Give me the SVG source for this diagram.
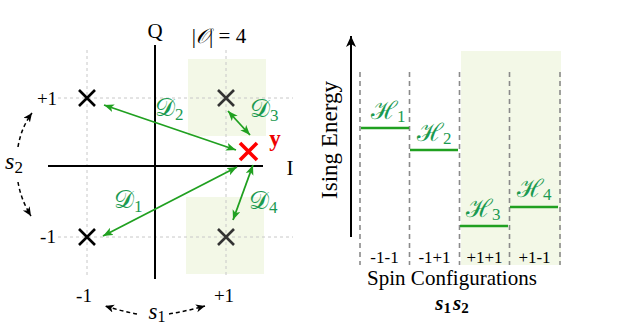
<svg xmlns="http://www.w3.org/2000/svg" width="641" height="328" viewBox="0 0 641 328">
<defs>
<style>
.t{font-family:"Liberation Serif","DejaVu Serif",serif;fill:#000}
.m{font-family:"Liberation Serif","DejaVu Serif",serif;font-style:italic}
.lab{font-family:"Liberation Serif","DejaVu Serif",serif;fill:#1a9a50;font-size:25px}
.grid{stroke:#c8c8c8;stroke-width:1;stroke-dasharray:3 3;fill:none}
.vd{stroke:#8a8a8a;stroke-width:1.6;stroke-dasharray:5 4;fill:none}
.ga{stroke:#20a020;stroke-width:1.8;fill:none;marker-start:url(#ag);marker-end:url(#ag)}
.da{stroke:#000;stroke-width:1.5;stroke-dasharray:4 3;fill:none;marker-end:url(#ab)}
.ax{stroke:#000;stroke-width:2;fill:none}
.xm{stroke:#000;stroke-width:2.6;fill:none}
.hl{stroke:#20a020;stroke-width:2.6}
.sh{fill:#f3f8e7}
</style>
<marker id="ag" markerUnits="userSpaceOnUse" markerWidth="12" markerHeight="10" refX="10" refY="4" orient="auto-start-reverse">
<path d="M0,0 L10,4 L0,8 L2.5,4 Z" fill="#20a020"/>
</marker>
<marker id="ab" markerUnits="userSpaceOnUse" markerWidth="12" markerHeight="10" refX="9" refY="4" orient="auto">
<path d="M0,0 L9,4 L0,8 L2.5,4 Z" fill="#000"/>
</marker>
<marker id="ak" markerUnits="userSpaceOnUse" markerWidth="14" markerHeight="12" refX="11" refY="5" orient="auto">
<path d="M0,0 L11,5 L0,10 L3,5 Z" fill="#000"/>
</marker>
</defs>

<g id="constellation">
<rect class="sh" x="188" y="59" width="78" height="77"/>
<rect class="sh" x="186" y="197" width="78" height="77"/>
<g id="grid">
<line class="grid" x1="87" y1="50" x2="87" y2="278"/>
<line class="grid" x1="226" y1="50" x2="226" y2="278"/>
<line class="grid" x1="58" y1="98" x2="293" y2="98"/>
<line class="grid" x1="58" y1="237" x2="293" y2="237"/>
</g>
<g id="axes">
<line class="ax" x1="155" y1="45" x2="155" y2="279"/>
<line class="ax" x1="48" y1="166" x2="263" y2="166"/>
<text class="t" x="155" y="38" font-size="21" text-anchor="middle">Q</text>
<text class="t" x="290" y="175" font-size="21" text-anchor="middle">I</text>
<text class="t" x="47" y="105" font-size="19" text-anchor="middle">+1</text>
<text class="t" x="48" y="243" font-size="19" text-anchor="middle">-1</text>
<text class="t" x="84" y="302" font-size="19" text-anchor="middle">-1</text>
<text class="t" x="224" y="302" font-size="19" text-anchor="middle">+1</text>
<text class="t" x="219" y="43" font-size="21" text-anchor="middle">|<tspan font-style="italic">𝒪</tspan>| = 4</text>
</g>
<g id="pt-mm"><path class="xm" d="M79,229 L95,245 M95,229 L79,245"/></g>
<g id="pt-mp"><path class="xm" d="M79,90 L95,106 M95,90 L79,106"/></g>
<g id="pt-pp"><path class="xm" d="M218,90 L234,106 M234,90 L218,106" style="stroke:#333"/></g>
<g id="pt-pm"><path class="xm" d="M218,229 L234,245 M234,229 L218,245" style="stroke:#333"/></g>
<g id="pt-y">
<path d="M240,143 L257,160 M257,143 L240,160" stroke="#ff0000" stroke-width="3.6" fill="none"/>
<text x="275" y="146" font-family="Liberation Serif, serif" font-weight="bold" font-size="23" fill="#ee0000" text-anchor="middle">y</text>
</g>
</g>

<g id="connectors">
<line class="ga" x1="104" y1="105" x2="236" y2="150"/>
<line class="ga" x1="228" y1="111" x2="250" y2="135"/>
<line class="ga" x1="103" y1="236" x2="237" y2="167"/>
<line class="ga" x1="253" y1="165" x2="233" y2="220"/>
<path class="da" d="M18,147 Q21,128 32,113"/>
<path class="da" d="M18,182 Q21,200 31,216"/>
<path class="da" d="M137,314 Q121,311 105,306"/>
<path class="da" d="M169,314 Q187,311 205,306"/>
<line class="ax" x1="351" y1="237" x2="351" y2="36" marker-end="url(#ak)"/>
</g>

<g id="dist-labels">
<text class="lab" x="155" y="116">𝒟<tspan font-size="17" dy="4">2</tspan></text>
<text class="lab" x="250" y="117">𝒟<tspan font-size="17" dy="4">3</tspan></text>
<text class="lab" x="114" y="208">𝒟<tspan font-size="17" dy="4">1</tspan></text>
<text class="lab" x="249" y="209">𝒟<tspan font-size="17" dy="4">4</tspan></text>
</g>
<text class="m" x="14" y="169" font-size="24" text-anchor="middle">s<tspan font-size="17" dy="4" font-style="normal">2</tspan></text>
<text class="m" x="157" y="319" font-size="23" text-anchor="middle">s<tspan font-size="16" dy="3" font-style="normal">1</tspan></text>

<g id="energy">
<rect class="sh" x="461" y="51" width="100" height="214"/>
<line class="vd" x1="360" y1="72" x2="360" y2="265"/>
<line class="vd" x1="409.5" y1="72" x2="409.5" y2="265"/>
<line class="vd" x1="459.5" y1="72" x2="459.5" y2="265"/>
<line class="vd" x1="509.5" y1="72" x2="509.5" y2="265"/>
<line class="vd" x1="560" y1="72" x2="560" y2="265"/>
<g id="H1"><line class="hl" x1="361" y1="128" x2="409" y2="128"/><text class="lab" x="371" y="119">ℋ<tspan font-size="17" dy="3">1</tspan></text></g>
<g id="H2"><line class="hl" x1="410" y1="150" x2="458" y2="150"/><text class="lab" x="417" y="141">ℋ<tspan font-size="17" dy="3">2</tspan></text></g>
<g id="H3"><line class="hl" x1="460" y1="226" x2="508" y2="226"/><text class="lab" x="466" y="217">ℋ<tspan font-size="17" dy="3">3</tspan></text></g>
<g id="H4"><line class="hl" x1="510" y1="207" x2="558" y2="207"/><text class="lab" x="517" y="197">ℋ<tspan font-size="17" dy="3">4</tspan></text></g>
<text class="t" x="384.5" y="263" font-size="17" text-anchor="middle">-1-1</text>
<text class="t" x="434.5" y="263" font-size="17" text-anchor="middle">-1+1</text>
<text class="t" x="484.5" y="263" font-size="17" text-anchor="middle">+1+1</text>
<text class="t" x="534.5" y="263" font-size="17" text-anchor="middle">+1-1</text>
<text class="t" transform="translate(337,140) rotate(-90)" font-size="23" text-anchor="middle">Ising Energy</text>
<text class="t" x="452" y="285" font-size="21" text-anchor="middle">Spin Configurations</text>
<text class="m" x="452" y="310" font-size="21" font-weight="bold" text-anchor="middle">s<tspan font-size="15" dy="3" font-style="normal">1</tspan><tspan dx="2" dy="-3">s</tspan><tspan font-size="15" dy="3" font-style="normal">2</tspan></text>
</g>
</svg>
